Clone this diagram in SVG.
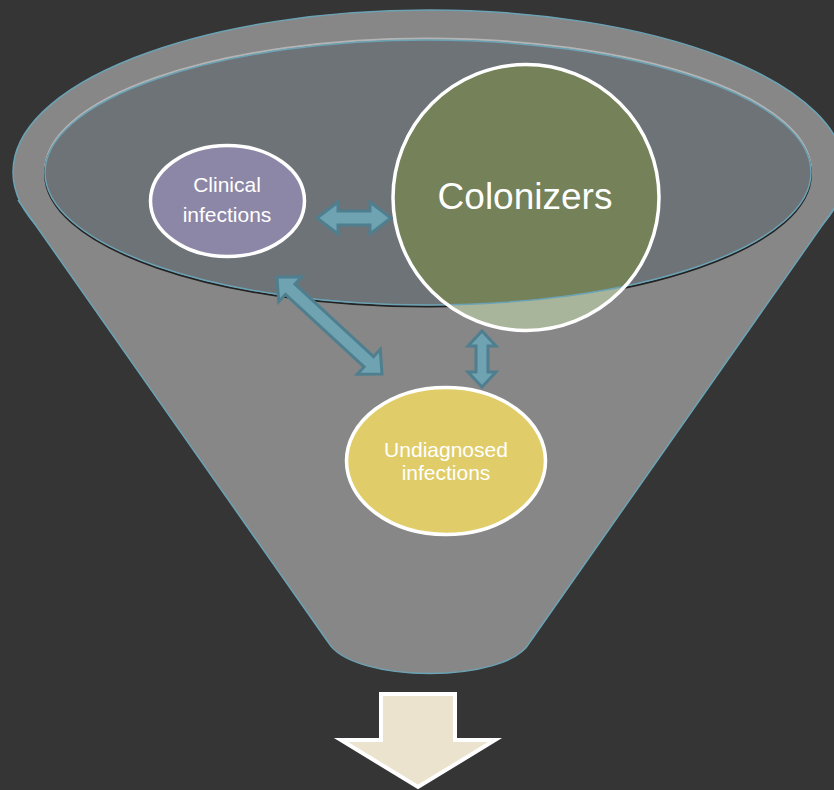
<svg xmlns="http://www.w3.org/2000/svg" width="834" height="790" viewBox="0 0 834 790">
<style>
.lbl{font-family:"Liberation Sans",Arial,sans-serif;fill:#ffffff;text-anchor:middle}
.conn{fill:#6fa3b2;stroke:#4f7f8f;stroke-width:3;stroke-linejoin:miter}
.node{stroke:#ffffff;stroke-width:3.5}
</style>
<defs>
<clipPath id="innerClip"><ellipse cx="428" cy="172.5" rx="383" ry="132.5"/></clipPath>
</defs>
<rect x="0" y="0" width="834" height="790" fill="#353535"/>
<g id="funnel">
<ellipse cx="429" cy="172" rx="416" ry="162" fill="#878787" stroke="#6ba3b5" stroke-width="1.5"/>
<path d="M18,200 L328,642 C352,684 508,684 530,642 L840,200 Z" fill="#878787"/>
<path d="M18,200 L328,642 C352,684 508,684 530,642 L840,200" fill="none" stroke="#6ba3b5" stroke-width="1.5"/>
<ellipse cx="428" cy="171" rx="383" ry="132.5" fill="none" stroke="#b4b4b4" stroke-width="2"/>
<ellipse cx="428" cy="174" rx="383" ry="132.5" fill="none" stroke="#222222" stroke-width="2"/>
<ellipse cx="428" cy="172.5" rx="383" ry="132.5" fill="#6e7377"/>
</g>
<g id="clinical">
<ellipse class="node" cx="227.5" cy="201" rx="77" ry="55.5" fill="#8c87a6"/>
<text class="lbl" x="227" y="192" font-size="21">Clinical</text>
<text class="lbl" x="227" y="222" font-size="21">infections</text>
</g>
<g id="colonizers">
<circle cx="526" cy="197.5" r="133" fill="#a9b59a"/>
<circle cx="526" cy="197.5" r="133" fill="#748159" clip-path="url(#innerClip)"/>
<ellipse cx="428" cy="172.5" rx="383" ry="132.5" fill="none" stroke="#6ba3b5" stroke-width="1.5"/>
<circle cx="526" cy="197.5" r="133" fill="none" stroke="#ffffff" stroke-width="3.5"/>
<text class="lbl" x="525" y="209" font-size="37">Colonizers</text>
</g>
<g id="undiagnosed">
<ellipse class="node" cx="446" cy="461" rx="99.5" ry="73.5" fill="#e0cd6a"/>
<text class="lbl" x="446" y="457" font-size="21">Undiagnosed</text>
<text class="lbl" x="446" y="480" font-size="21">infections</text>
</g>
<g id="connectors">
<polygon class="conn" points="317,218 338,202 338,211 370,211 370,202 391,218 370,234 370,225 338,225 338,234"/>
<polygon class="conn" points="277,277 301.76,276.72 294.97,284.07 373.53,356.65 380.32,349.3 382,374 357.24,374.28 364.03,366.93 285.47,294.35 278.68,301.7"/>
<polygon class="conn" points="482,331 496,346 488,346 488,372 496,372 482,387 468,372 476,372 476,346 468,346"/>
</g>
<g id="output-arrow">
<polygon points="381,694 455,694 455,740 495,740 418,787 341,740 381,740" fill="#ebe3cd" stroke="#ffffff" stroke-width="4"/>
</g>
</svg>
